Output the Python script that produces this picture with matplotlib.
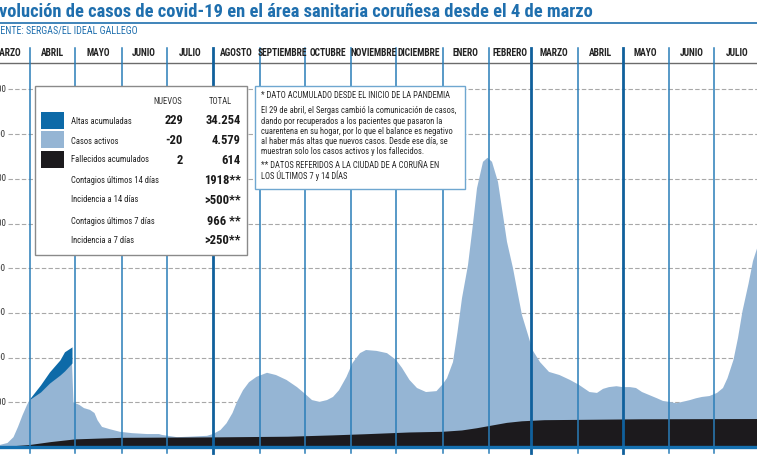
import numpy as np
import matplotlib
matplotlib.use("Agg")
import matplotlib.pyplot as plt
import matplotlib.dates as mdates
from matplotlib import font_manager as fm
from matplotlib.patches import Rectangle

# casos activos (area sanitaria)
active_dates = [
    "2020-03-04", "2020-03-10", "2020-03-17", "2020-03-21", "2020-03-24", "2020-03-27", "2020-03-30",
    "2020-04-01", "2020-04-08", "2020-04-14", "2020-04-21", "2020-04-24", "2020-04-29", "2020-04-30",
    "2020-05-04", "2020-05-07", "2020-05-11", "2020-05-14", "2020-05-16", "2020-05-19", "2020-05-24", "2020-05-31",
    "2020-06-08", "2020-06-18", "2020-06-26", "2020-06-28", "2020-07-08", "2020-07-16", "2020-07-28",
    "2020-08-01", "2020-08-06", "2020-08-10", "2020-08-14", "2020-08-17", "2020-08-21", "2020-08-25", "2020-08-30",
    "2020-09-06", "2020-09-12", "2020-09-19", "2020-09-26", "2020-10-01", "2020-10-06", "2020-10-11",
    "2020-10-16", "2020-10-20", "2020-10-24", "2020-10-29",
    "2020-11-02", "2020-11-07", "2020-11-11", "2020-11-18", "2020-11-25", "2020-12-01", "2020-12-05",
    "2020-12-10", "2020-12-15", "2020-12-21", "2020-12-28",
    "2021-01-01", "2021-01-04", "2021-01-08", "2021-01-11", "2021-01-14", "2021-01-18", "2021-01-21",
    "2021-01-24", "2021-01-28", "2021-01-31",
    "2021-02-03", "2021-02-07", "2021-02-10", "2021-02-13", "2021-02-17", "2021-02-20", "2021-02-23", "2021-02-27",
    "2021-03-02", "2021-03-07", "2021-03-13", "2021-03-20", "2021-03-27", "2021-04-02", "2021-04-09",
    "2021-04-14", "2021-04-18", "2021-04-22", "2021-04-27",
    "2021-05-01", "2021-05-06", "2021-05-10", "2021-05-14", "2021-05-19", "2021-05-24", "2021-05-28",
    "2021-06-01", "2021-06-06", "2021-06-10", "2021-06-15", "2021-06-19", "2021-06-23", "2021-06-28",
    "2021-07-03", "2021-07-07", "2021-07-10", "2021-07-14", "2021-07-17", "2021-07-20", "2021-07-24",
    "2021-07-27", "2021-07-31",
]
active_vals = [
    0, 30, 90, 220, 450, 710, 940,
    1070, 1230, 1430, 1610, 1700, 1880, 1000,
    940, 870, 830, 760, 600, 450, 400, 340,
    310, 290, 290, 270, 220, 230, 250,
    290, 380, 530, 760, 1010, 1270, 1450, 1570,
    1660, 1610, 1500, 1340, 1200, 1050, 1010,
    1050, 1120, 1270, 1570,
    1880, 2100, 2170, 2150, 2100, 1950, 1770,
    1500, 1320, 1230, 1250,
    1400, 1540, 1900, 2570, 3330, 4070, 4900,
    5790, 6380, 6470,
    6380, 5930, 5260, 4590, 4000, 3470, 2950, 2510,
    2170, 1900, 1680, 1610, 1500, 1390, 1230,
    1210, 1300, 1340, 1360,
    1340, 1340, 1320, 1230, 1160, 1090, 1030,
    1010, 980, 1010, 1050, 1090, 1120, 1140,
    1210, 1320, 1540, 1950, 2440, 3040, 3650,
    4160, 4579,
]

# altas acumuladas (banda sobre los activos hasta el 29 de abril)
altas_dates = ["2020-04-01", "2020-04-08", "2020-04-14", "2020-04-21", "2020-04-24", "2020-04-29"]
altas_vals = [20, 160, 250, 340, 430, 360]

# fallecidos acumulados
deaths_dates = [
    "2020-03-04", "2020-03-20", "2020-04-01", "2020-04-15", "2020-05-01", "2020-06-01", "2020-08-01",
    "2020-09-20", "2020-10-20", "2020-11-10", "2020-11-25", "2020-12-10", "2021-01-01", "2021-01-14",
    "2021-01-24", "2021-02-03", "2021-02-13", "2021-02-23", "2021-03-10", "2021-05-14", "2021-07-31",
]
deaths_vals = [
    0, 15, 45, 110, 170, 205, 215,
    230, 260, 285, 305, 325, 340, 370,
    420, 480, 540, 575, 600, 620, 626,
]

months = ["MARZO", "ABRIL", "MAYO", "JUNIO", "JULIO", "AGOSTO", "SEPTIEMBRE", "OCTUBRE", "NOVIEMBRE",
          "DICIEMBRE", "ENERO", "FEBRERO", "MARZO", "ABRIL", "MAYO", "JUNIO", "JULIO"]
month_starts = ["2020-03-01", "2020-04-01", "2020-05-01", "2020-06-01", "2020-07-01", "2020-08-01",
                "2020-09-01", "2020-10-01", "2020-11-01", "2020-12-01", "2021-01-01", "2021-02-01",
                "2021-03-01", "2021-04-01", "2021-05-01", "2021-06-01", "2021-07-01", "2021-08-01"]
bold_lines = ["2020-08-01", "2021-03-01", "2021-05-01"]

yticks = [1000, 2000, 3000, 4000, 5000, 6000, 7000, 8000]
ytick_labels = ["1.000", "2.000", "3.000", "4.000", "5.000", "6.000", "7.000", "8.000"]

legend_rows = ["Altas acumuladas", "Casos activos", "Fallecidos acumulados", "Contagios últimos 14 días",
               "Incidencia a 14 días", "Contagios últimos 7 días", "Incidencia a 7 días"]
legend_new = ["229", "-20", "2", "", "", "", ""]
legend_total = ["34.254", "4.579", "614", "1918**", ">500**", "966 **", ">250**"]

note_lines = [
    "* DATO ACUMULADO DESDE EL INICIO DE LA PANDEMIA",
    "El 29 de abril, el Sergas cambió la comunicación de casos,",
    "dando por recuperados a los pacientes que pasaron la",
    "cuarentena en su hogar, por lo que el balance es negativo",
    "al haber más altas que nuevos casos. Desde ese día, se",
    "muestran solo los casos activos y los fallecidos.",
    "** DATOS REFERIDOS A LA CIUDAD DE A CORUÑA EN",
    "LOS ÚLTIMOS 7 y 14 DÍAS",
]

BLUE = "#1f6fae"
LIGHT = "#95b5d4"
DARK = "#0d6aa8"
BLACK = "#1c1a1d"

# narrowest available sans family
available = {f.name for f in fm.fontManager.ttflist}
COND = "DejaVu Sans"
for cand in ["Roboto Condensed", "Liberation Sans Narrow", "DejaVu Sans Condensed", "Arial Narrow",
             "Roboto", "Liberation Sans"]:
    if cand in available:
        COND = cand
        break
FONT = [COND, "DejaVu Sans"]

W, H = 757, 463


def fx(px):
    return px / W


def fy(py):
    return 1 - py / H


def num(d):
    return mdates.date2num(np.array(d, dtype="datetime64[D]"))


fig = plt.figure(figsize=(W / 100, H / 100), dpi=100)
renderer = fig.canvas.get_renderer()


def width(t):
    return t.get_window_extent(renderer).width


def size_for(text, target, **kw):
    # font size that makes `text` about `target` pixels wide
    t = fig.text(0, 0, text, fontsize=10, family=FONT, **kw)
    w = width(t)
    t.remove()
    return 10 * target / w


ax = fig.add_axes([0, fy(447), 1, (447 - 63) / H])
x_apr = num("2020-04-01")
ax.set_xlim(x_apr - 20, x_apr + (W - 30) / 1.5)
ax.set_ylim(0, (447 - 63) / 44.7 * 1000)
ax.set_xticks([])
ax.set_yticks([])
for s in ["left", "right", "bottom"]:
    ax.spines[s].set_visible(False)
ax.spines["top"].set_color("#6b6b6b")
ax.spines["top"].set_linewidth(1.0)

for v, lab in zip(yticks, ytick_labels):
    ax.axhline(v, xmin=8 / W, color="#a8a8a8", lw=0.8, ls=(0, (4, 2)), zorder=0)
    ax.text(6 / W, v, lab, transform=ax.get_yaxis_transform(), ha="right", va="center",
            fontsize=6.5, color="#333333", family=FONT)

xa = num(active_dates)
ya = np.array(active_vals, dtype=float)
ax.fill_between(xa, 0, ya, color=LIGHT, lw=0, zorder=1)

xb = num(altas_dates)
base = np.interp(xb, xa, ya)
ax.fill_between(xb, base, base + np.array(altas_vals), color=DARK, lw=0, zorder=1)

ax.fill_between(num(deaths_dates), 0, deaths_vals, color=BLACK, lw=0, zorder=2)

for d in month_starts[1:-1]:
    thick = d in bold_lines
    ax.axvline(num(d), ymin=-0.016, ymax=1.039, clip_on=False, zorder=3,
               color="#10609c" if thick else "#2a7db8", lw=2.0 if thick else 1.1)

ax.axhline(0, color="#1570b0", lw=2.4, zorder=4, clip_on=False)

ms = num(month_starts)
month_size = size_for("SEPTIEMBRE", 50, fontweight="bold")
for i, m in enumerate(months):
    ax.text((ms[i] + ms[i + 1]) / 2, 1.026, m, transform=ax.get_xaxis_transform(), ha="center",
            va="center", fontsize=month_size, fontweight="bold", color="#222222", family=FONT)

# title and source (first letters fall outside the cropped picture)
title = "Evolución de casos de covid-19 en el área sanitaria coruñesa desde el 4 de marzo"
ts = size_for(title[1:], 598, fontweight="bold")
cut = size_for(title[0], 10, fontweight="bold") * 10 / 10
t = fig.text(0, 0, title[0], fontsize=ts, fontweight="bold", family=FONT)
cut_w = width(t)
t.remove()
fig.text(fx(-cut_w - 1), fy(17), title, fontsize=ts, fontweight="bold", color=BLUE, family=FONT,
         va="baseline")
fig.add_artist(plt.Line2D([0, 1], [fy(23), fy(23)], transform=fig.transFigure, color=BLUE, lw=1.2))

source = "FUENTE: SERGAS/EL IDEAL GALLEGO"
ss = size_for(source[2:], 138)
t = fig.text(0, 0, source[:2], fontsize=ss, family=FONT)
cut_w = width(t)
t.remove()
fig.text(fx(-cut_w), fy(31), source, fontsize=ss, color=BLUE, family=FONT, va="center")

# legend box
fig.add_artist(Rectangle((fx(35), fy(255)), (247 - 35) / W, (255 - 86) / H, transform=fig.transFigure,
                         facecolor="white", edgecolor="#8a8a8a", lw=1.0, zorder=10))
for i, c in enumerate([DARK, LIGHT, BLACK]):
    top = [112, 131, 151][i]
    fig.add_artist(Rectangle((fx(41), fy(top + 17)), 23 / W, 17 / H, transform=fig.transFigure,
                             facecolor=c, edgecolor="none", zorder=11))
hs = size_for("NUEVOS", 29)
fig.text(fx(168), fy(101), "NUEVOS", fontsize=hs, ha="center", va="center", color="#333333",
         family=FONT, zorder=12)
fig.text(fx(220), fy(101), "TOTAL", fontsize=hs, ha="center", va="center", color="#333333",
         family=FONT, zorder=12)
ls = size_for("Contagios últimos 14 días", 88)
ns = size_for("34.254", 36, fontweight="bold")
row_y = [121, 141, 160, 180, 200, 221, 240]
for y, lab, nv, tv in zip(row_y, legend_rows, legend_new, legend_total):
    fig.text(fx(71), fy(y), lab, fontsize=ls, ha="left", va="center", color="#222222",
             family=FONT, zorder=12)
    if nv:
        fig.text(fx(183), fy(y), nv, fontsize=ns, fontweight="bold", ha="right", va="center",
                 color="#1a1a1a", family=FONT, zorder=12)
    fig.text(fx(241), fy(y), tv, fontsize=ns, fontweight="bold", ha="right", va="center",
             color="#1a1a1a", family=FONT, zorder=12)

# note box
fig.add_artist(Rectangle((fx(255), fy(189)), (465 - 255) / W, (189 - 86) / H, transform=fig.transFigure,
                         facecolor="white", edgecolor="#6fa7d0", lw=1.0, zorder=10))
note_size = size_for(note_lines[1], 196)
note_y = [96, 110, 121, 132, 142, 152, 166, 176]
for y, line in zip(note_y, note_lines):
    fig.text(fx(261), fy(y), line, fontsize=note_size, ha="left", va="center", color="#2a2a2a",
             family=FONT, zorder=12)

fig.savefig("out.png", dpi=100)
